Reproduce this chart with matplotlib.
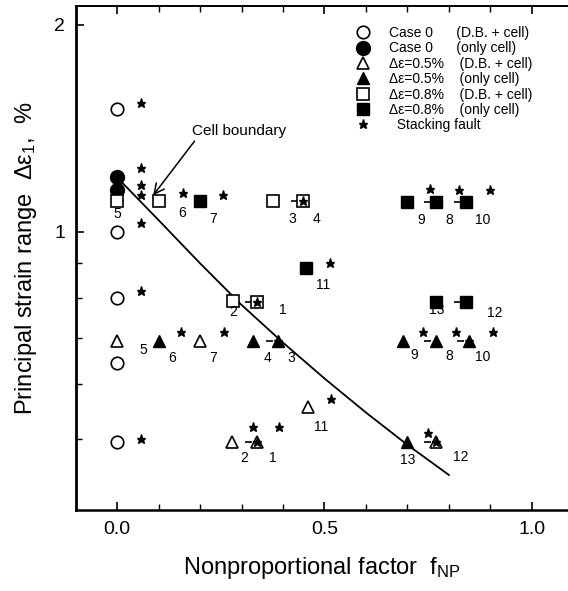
import matplotlib.pyplot as plt
from matplotlib.path import Path
from matplotlib.ticker import FixedLocator, FixedFormatter, NullFormatter

plt.rcParams['font.family'] = ['Liberation Sans', 'DejaVu Sans']
plt.rcParams['mathtext.fontset'] = 'custom'
plt.rcParams['mathtext.rm'] = 'Liberation Sans'
plt.rcParams['mathtext.it'] = 'Liberation Sans'
plt.rcParams['mathtext.default'] = 'regular'

# ---- data ----
# Case 0
case0_db_x = [0.0, 0.0, 0.0, 0.0, 0.0]
case0_db_y = [1.51, 1.00, 0.80, 0.645, 0.495]
case0_cell_x = [0.0, 0.0]
case0_cell_y = [1.15, 1.20]

# delta eps = 0.5 %
tri_db_x = [0.0, 0.20, 0.46, 0.277, 0.337, 0.77]
tri_db_y = [0.694, 0.694, 0.557, 0.495, 0.495, 0.495]
tri_db_id = ['5', '7', '11', '2', '1', '12']
tri_cell_x = [0.10, 0.328, 0.388, 0.69, 0.77, 0.848, 0.70]
tri_cell_y = [0.694, 0.694, 0.694, 0.694, 0.694, 0.694, 0.495]
tri_cell_id = ['6', '4', '3', '9', '8', '10', '13']

# delta eps = 0.8 %
sq_db_x = [0.0, 0.10, 0.376, 0.448, 0.28, 0.337]
sq_db_y = [1.11, 1.11, 1.11, 1.11, 0.794, 0.79]
sq_db_id = ['5', '6', '3', '4', '2', '1']
sq_cell_x = [0.20, 0.455, 0.70, 0.77, 0.84, 0.77, 0.84]
sq_cell_y = [1.11, 0.886, 1.105, 1.105, 1.105, 0.79, 0.79]
sq_cell_id = ['7', '11', '9', '8', '10', '13', '12']

# stacking faults
sf_x = [0.058, 0.058, 0.058, 0.058, 0.058, 0.058, 0.058,
        0.16, 0.255, 0.448, 0.513, 0.754, 0.824, 0.90,
        0.155, 0.258, 0.388, 0.737, 0.817, 0.906, 0.848,
        0.516, 0.328, 0.39, 0.337, 0.75, 0.77, 0.337]
sf_y = [1.54, 1.24, 1.17, 1.13, 1.03, 0.82, 0.50,
        1.14, 1.13, 1.11, 0.90, 1.155, 1.15, 1.15,
        0.716, 0.716, 0.694, 0.716, 0.716, 0.714, 0.694,
        0.572, 0.52, 0.52, 0.495, 0.51, 0.495, 0.79]

# short dashes drawn at the left of some symbols
dash_x = [0.77, 0.84, 0.84, 0.77, 0.848, 0.77, 0.337, 0.448, 0.337, 0.388]
dash_y = [1.105, 1.105, 0.79, 0.694, 0.694, 0.495, 0.495, 1.11, 0.79, 0.694]

# cell boundary curve
curve_x = [0.0, 0.1, 0.2, 0.3, 0.4, 0.5, 0.6, 0.7, 0.8]
curve_y = [1.20, 1.04, 0.90, 0.783, 0.69, 0.612, 0.546, 0.49, 0.443]

# label offsets (pixels) for the case numbers
tri_db_off = [(26, -9), (13, -17), (13, -20), (12, -16), (16, -16), (24, -15)]
tri_cell_off = [(14, -17), (14, -17), (13, -17), (11, -14), (13, -15), (14, -16), (0, -18)]
sq_db_off = [(0, -13), (24, -12), (19, -18), (14, -18), (0, -11), (26, -8)]
sq_cell_off = [(13, -18), (17, -17), (14, -18), (13, -18), (17, -18), (0, -8), (29, -11)]

fig = plt.figure(figsize=(5.68, 5.91), dpi=100)
ax = fig.add_axes([76 / 568, 81 / 591, 492 / 568, 504 / 591])

ax.plot(curve_x, curve_y, color='black', lw=1.3, zorder=1)

dash = Path([(-2.3, 0), (-0.9, 0)], [Path.MOVETO, Path.LINETO])
ax.plot(dash_x, dash_y, ls='none', marker=dash, ms=17, mec='black', mew=1.2, zorder=2)

ax.plot(case0_db_x, case0_db_y, 'o', ms=9, mfc='white', mec='black', mew=1.2,
        label='Case 0      (D.B. + cell)', zorder=3)
ax.plot(case0_cell_x, case0_cell_y, 'o', ms=10, color='black',
        label='Case 0      (only cell)', zorder=3)
ax.plot(tri_db_x, tri_db_y, '^', ms=9, mfc='white', mec='black', mew=1.2,
        label='\u0394\u03b5=0.5%    (D.B. + cell)', zorder=3)
ax.plot(tri_cell_x, tri_cell_y, '^', ms=9, color='black',
        label='\u0394\u03b5=0.5%    (only cell)', zorder=3)
ax.plot(sq_db_x, sq_db_y, 's', ms=8.5, mfc='white', mec='black', mew=1.2,
        label='\u0394\u03b5=0.8%    (D.B. + cell)', zorder=4)
ax.plot(sq_cell_x, sq_cell_y, 's', ms=8.5, color='black',
        label='\u0394\u03b5=0.8%    (only cell)', zorder=4)
ax.plot(sf_x, sf_y, '*', ms=6.5, color='black', label='  Stacking fault', zorder=5)

for xs, ys, ids, offs in [(tri_db_x, tri_db_y, tri_db_id, tri_db_off),
                          (tri_cell_x, tri_cell_y, tri_cell_id, tri_cell_off),
                          (sq_db_x, sq_db_y, sq_db_id, sq_db_off),
                          (sq_cell_x, sq_cell_y, sq_cell_id, sq_cell_off)]:
    for x, y, s, (dx, dy) in zip(xs, ys, ids, offs):
        ax.annotate(s, (x, y), xytext=(dx, dy), textcoords='offset pixels',
                    ha='center', va='center', fontsize=10, zorder=6)

ax.annotate('Cell boundary', xy=(0.087, 1.13), xytext=(0.294, 1.40),
            ha='center', va='center', fontsize=11,
            arrowprops=dict(arrowstyle='->', color='black', lw=1.1,
                            mutation_scale=18, shrinkA=0, shrinkB=0,
                            relpos=(0.05, 0.0)))

ax.set_yscale('log')
ax.set_xlim(-0.099, 1.087)
ax.set_ylim(0.394, 2.13)

ax.xaxis.set_major_locator(FixedLocator([0.0, 0.5, 1.0]))
ax.xaxis.set_major_formatter(FixedFormatter(['0.0', '0.5', '1.0']))
ax.xaxis.set_minor_locator(FixedLocator([0.1, 0.2, 0.3, 0.4, 0.6, 0.7, 0.8, 0.9]))
ax.yaxis.set_major_locator(FixedLocator([1, 2]))
ax.yaxis.set_major_formatter(FixedFormatter(['1', '2']))
ax.yaxis.set_minor_locator(FixedLocator([0.5, 0.6, 0.7, 0.8, 0.9]))
ax.yaxis.set_minor_formatter(NullFormatter())

ax.tick_params(which='both', direction='in', top=True, right=False, labelsize=14, pad=8)
ax.tick_params(which='major', length=6, width=1.2)
ax.tick_params(which='minor', length=4, width=1.0)

ax.spines['right'].set_visible(False)
ax.spines['left'].set_linewidth(2)
ax.spines['bottom'].set_linewidth(1.8)
ax.spines['top'].set_linewidth(1.4)

ax.set_xlabel(r'Nonproportional factor  f$_{NP}$', fontsize=17, labelpad=12)
ax.set_ylabel(r'Principal strain range  $\Delta\varepsilon_1$,  %', fontsize=17)
ax.yaxis.set_label_coords(-0.075, 0.5)

ax.legend(loc='upper left', bbox_to_anchor=(356 / 568, 1 - 26 / 591),
          bbox_transform=fig.transFigure, frameon=False, fontsize=10,
          handlelength=1.0, handletextpad=1.4, labelspacing=0.10,
          borderpad=0, borderaxespad=0)

fig.savefig('out.png', dpi=100)
